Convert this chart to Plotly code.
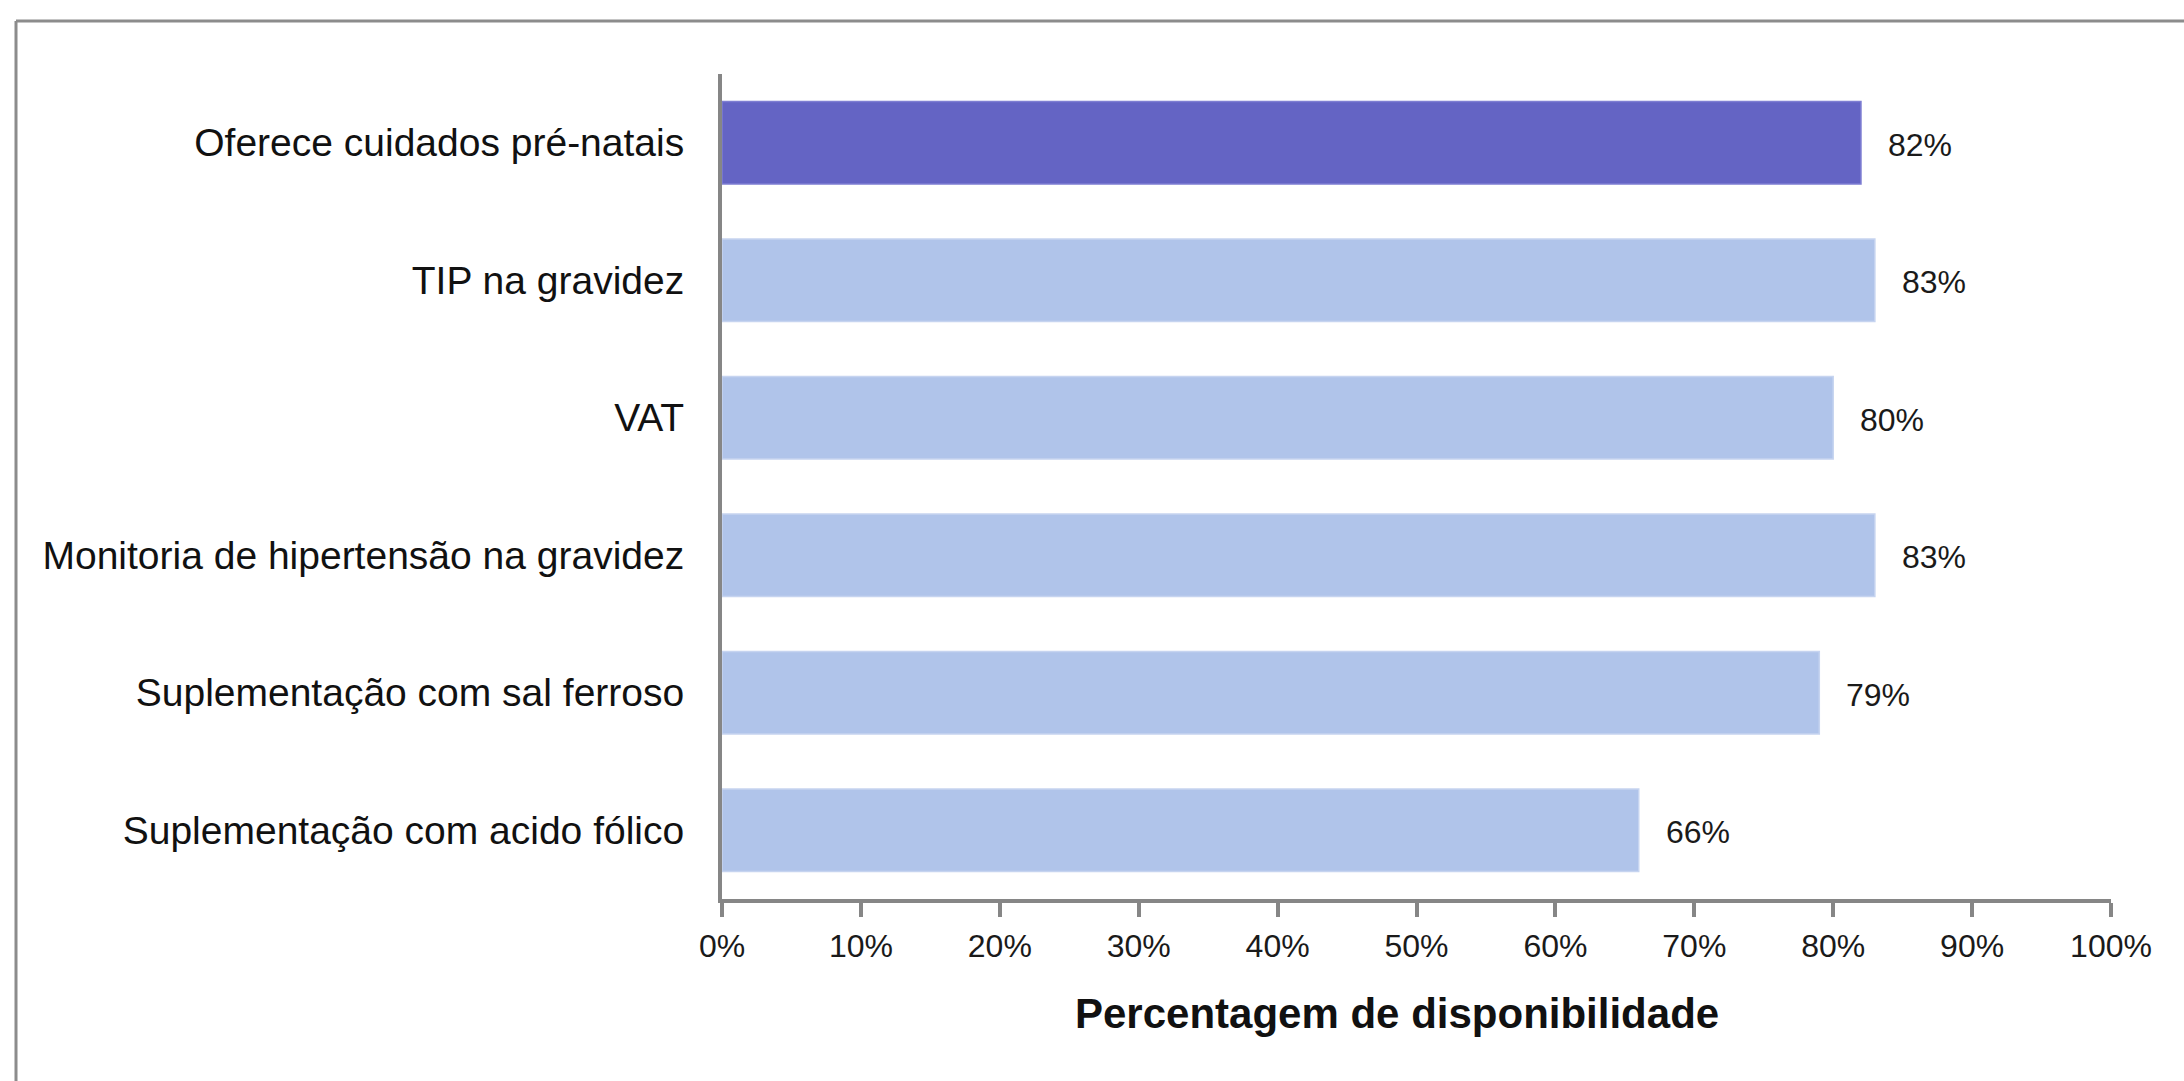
import plotly.graph_objects as go

# Services offered and their availability (%)
categories = [
    "Oferece cuidados pré-natais",
    "TIP na gravidez",
    "VAT",
    "Monitoria de hipertensão na gravidez",
    "Suplementação com sal ferroso",
    "Suplementação com acido fólico",
]
values = [82, 83, 80, 83, 79, 66]
x_ticks = [0, 10, 20, 30, 40, 50, 60, 70, 80, 90, 100]
x_tick_labels = [f"{t}%" for t in x_ticks]
axis_title = "Percentagem de disponibilidade"

HEADLINE = "#6464C4"
DETAIL = "#B0C4EA"
bar_colors = [HEADLINE] + [DETAIL] * (len(categories) - 1)
edge_colors = ["#7E7ED2"] + ["#C6D4F0"] * (len(categories) - 1)

FONT = "Liberation Sans, Arial, sans-serif"
AXIS_GRAY = "#868686"

W, H = 2184, 1081
ML, MR, MT, MB = 722, 73, 74, 182
PW, PH = W - ML - MR, H - MT - MB

fig = go.Figure(
    go.Bar(
        x=values,
        y=categories,
        orientation="h",
        marker=dict(color=bar_colors, line=dict(color=edge_colors, width=1.5)),
        hoverinfo="skip",
    )
)

# value labels just past each bar end
for cat, v in zip(categories, values):
    fig.add_annotation(
        x=v, y=cat, xref="x", yref="y",
        text=f"{v}%", showarrow=False,
        xanchor="left", yanchor="middle", xshift=25, yshift=-2,
        font=dict(family=FONT, size=32, color="#1a1a1a"),
    )

# axis title
fig.add_annotation(
    x=(1397 - ML) / PW, y=(H - MB - 1013) / PH, xref="paper", yref="paper",
    text=f"<b>{axis_title}</b>", showarrow=False,
    xanchor="center", yanchor="middle",
    font=dict(family=FONT, size=42, color="#111111"),
)

# frame lines along the top and left of the canvas
frame_x = (16 - ML) / PW
frame_y = (H - MB - 21) / PH
fig.add_shape(type="line", xref="paper", yref="paper",
              x0=frame_x, x1=(W + 10 - ML) / PW, y0=frame_y, y1=frame_y,
              line=dict(color="#8C8C8C", width=3))
fig.add_shape(type="line", xref="paper", yref="paper",
              x0=frame_x, x1=frame_x, y0=frame_y, y1=(H - MB - H - 10) / PH,
              line=dict(color="#8C8C8C", width=3))

fig.update_layout(
    width=W, height=H,
    margin=dict(l=ML, r=MR, t=MT, b=MB, pad=0, autoexpand=False),
    paper_bgcolor="white", plot_bgcolor="white",
    bargap=0.4,
    showlegend=False,
    font=dict(family=FONT, color="#111111"),
    xaxis=dict(
        range=[0, 100],
        tickvals=x_ticks, ticktext=x_tick_labels,
        showgrid=False, zeroline=False,
        showline=True, linecolor=AXIS_GRAY, linewidth=4,
        ticks="outside", ticklen=14, tickwidth=4, tickcolor=AXIS_GRAY,
        tickfont=dict(family=FONT, size=32, color="#1a1a1a"),
        ticklabelstandoff=2,
        automargin=False,
        fixedrange=True,
    ),
    yaxis=dict(
        categoryorder="array", categoryarray=categories,
        autorange="reversed",
        showgrid=False, zeroline=False,
        showline=True, linecolor=AXIS_GRAY, linewidth=4,
        ticks="",
        tickfont=dict(family=FONT, size=39, color="#111111"),
        ticklabelstandoff=26,
        automargin=False,
        fixedrange=True,
    ),
)

fig.write_html("out.html", config={"displayModeBar": False})
